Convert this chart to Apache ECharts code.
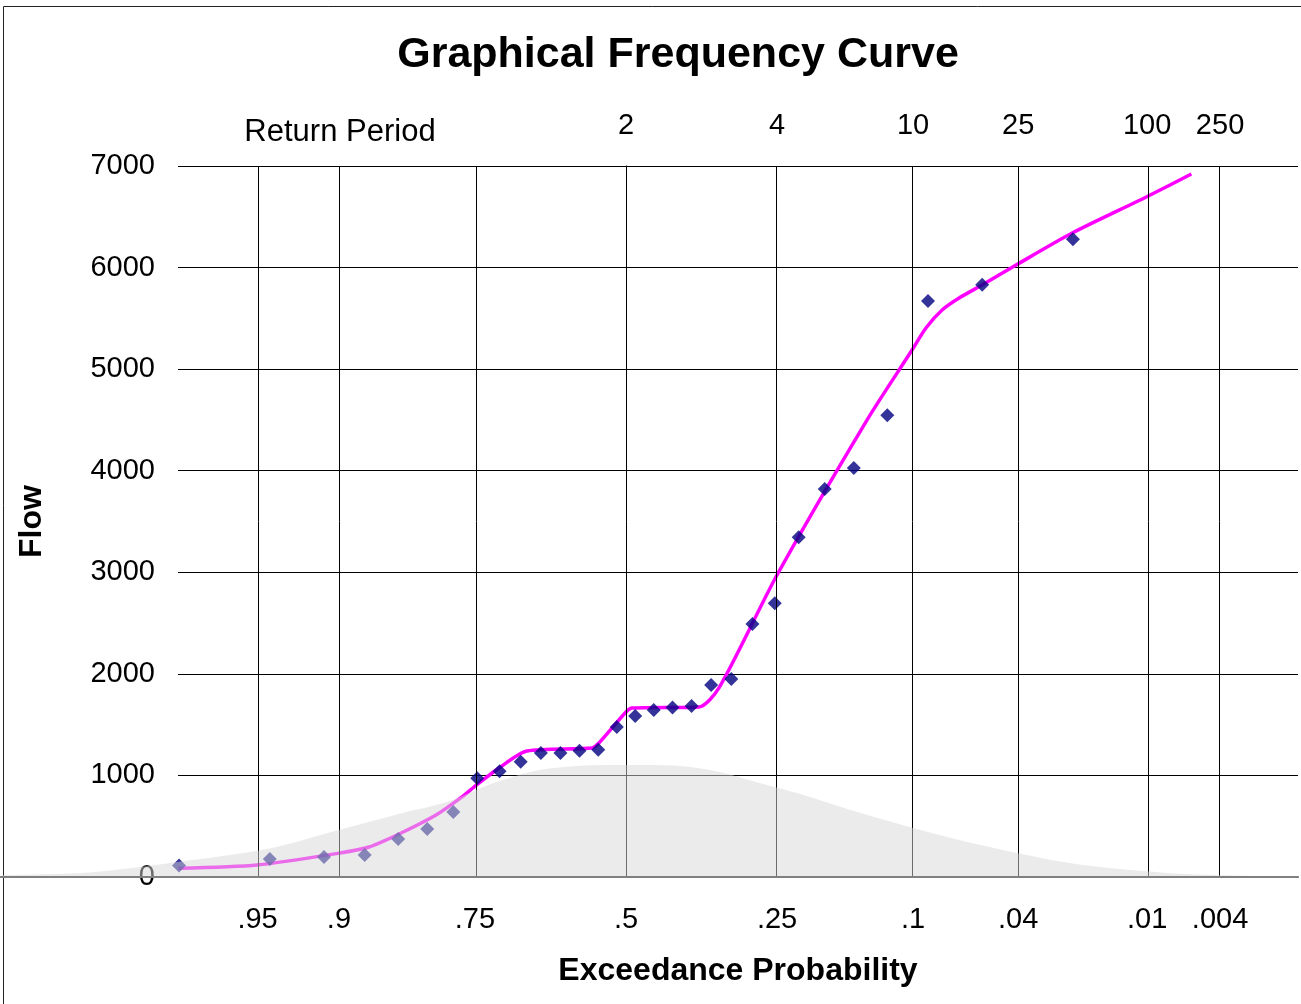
<!DOCTYPE html>
<html><head><meta charset="utf-8">
<script src="https://cdn.jsdelivr.net/npm/echarts@6/dist/echarts.min.js"></script>
<style>html,body{margin:0;padding:0;background:#fff}#c{width:1301px;height:1004px}</style>
</head><body><div id="c"></div>
<script>
// ---- data ----
const probTicks = [0.95, 0.9, 0.75, 0.5, 0.25, 0.1, 0.04, 0.01, 0.004];
const probTickLabels = ['.95', '.9', '.75', '.5', '.25', '.1', '.04', '.01', '.004'];
const returnPeriods = [2, 4, 10, 25, 100, 250];
const returnPeriodLabels = ['2', '4', '10', '25', '100', '250'];

// observed annual peaks (largest first) and their exceedance probabilities
const obsExceedance = [0.0230, 0.0559, 0.0888, 0.1217, 0.1546, 0.1875, 0.2204, 0.2533, 0.2862, 0.3191,
  0.3520, 0.3849, 0.4178, 0.4507, 0.4836, 0.5164, 0.5493, 0.5822, 0.6151, 0.6480,
  0.6809, 0.7138, 0.7467, 0.7796, 0.8125, 0.8454, 0.8783, 0.9112, 0.9441, 0.9770];
const obsFlow = [6280, 5830, 5670, 4545, 4027, 3820, 3345, 2695, 2490, 1949,
  1890, 1684, 1668, 1644, 1585, 1477, 1252, 1242, 1221, 1221,
  1135, 1040, 972, 640, 473, 375, 217, 197, 177, 112];

// fitted frequency curve
const curveExceedance = [0.9772, 0.9502, 0.8992, 0.8743, 0.8445, 0.8018, 0.7679, 0.7514, 0.7146, 0.6708,
  0.5604, 0.5482, 0.5000, 0.4892, 0.3722, 0.3391, 0.2501, 0.1410, 0.1008, 0.0903,
  0.0791, 0.0685, 0.0560, 0.0408, 0.0232, 0.0101, 0.0058];
const curveFlow = [85, 118, 236, 295, 423, 610, 788, 886, 1073, 1240,
  1270, 1319, 1625, 1664, 1674, 1861, 2973, 4499, 5188, 5405,
  5582, 5700, 5828, 6025, 6340, 6695, 6921];

// background bell (density) shape
const bellExceedance = [0.9974, 0.9918, 0.9772, 0.9452, 0.9032, 0.8413, 0.7881, 0.7257, 0.6554, 0.5793,
  0.5000, 0.4207, 0.3446, 0.2743, 0.2119, 0.1587, 0.0968, 0.0548, 0.0228, 0.0082,
  0.00256, 0.00135];
const bellHeight = [20, 45, 150, 277, 455, 630, 740, 920, 1049, 1095,
  1103, 1098, 1042, 922, 800, 660, 471, 305, 130, 43,
  10, 0];

// ---- normal probability scale ----
function normInv(p) {
  const a = [-3.969683028665376e+01, 2.209460984245205e+02, -2.759285104469687e+02, 1.383577518672690e+02, -3.066479806614716e+01, 2.506628277459239e+00];
  const b = [-5.447609879822406e+01, 1.615858368580409e+02, -1.556989798598866e+02, 6.680131188771972e+01, -1.328068155288572e+01];
  const c = [-7.784894002430293e-03, -3.223964580411365e-01, -2.400758277161838e+00, -2.549732539343734e+00, 4.374664141464968e+00, 2.938163982698783e+00];
  const d = [7.784695709041462e-03, 3.224671290700398e-01, 2.445134137142996e+00, 3.754408661907416e+00];
  const pl = 0.02425, ph = 1 - pl;
  let q, r;
  if (p < pl) { q = Math.sqrt(-2 * Math.log(p)); return (((((c[0]*q+c[1])*q+c[2])*q+c[3])*q+c[4])*q+c[5]) / ((((d[0]*q+d[1])*q+d[2])*q+d[3])*q+1); }
  if (p > ph) { q = Math.sqrt(-2 * Math.log(1 - p)); return -(((((c[0]*q+c[1])*q+c[2])*q+c[3])*q+c[4])*q+c[5]) / ((((d[0]*q+d[1])*q+d[2])*q+d[3])*q+1); }
  q = p - 0.5; r = q * q;
  return (((((a[0]*r+a[1])*r+a[2])*r+a[3])*r+a[4])*r+a[5])*q / (((((b[0]*r+b[1])*r+b[2])*r+b[3])*r+b[4])*r+1);
}
const zOf = P => normInv(1 - P);

const tickZ = probTicks.map(zOf);
const rpZ = returnPeriods.map(T => zOf(1 / T));
function labelFor(zs, labels, v) {
  for (let i = 0; i < zs.length; i++) if (Math.abs(zs[i] - v) < 1e-6) return labels[i];
  return '';
}

const FONT = "'Liberation Sans', Arial, sans-serif";
const chart = echarts.init(document.getElementById('c'), null, { renderer: 'canvas' });

chart.setOption({
  animation: false,
  backgroundColor: '#fff',
  graphic: [
    { type: 'rect', shape: { x: 3.5, y: 6.5, width: 1400, height: 1100 }, style: { fill: null, stroke: '#222', lineWidth: 1 }, silent: true, z: -10 },
    { type: 'text', x: 678, y: 55, style: { text: 'Graphical Frequency Curve', font: "bold 43px " + FONT, fill: '#000', textAlign: 'center', textVerticalAlign: 'middle' }, silent: true },
    { type: 'text', x: 340, y: 132, style: { text: 'Return Period', font: "31px " + FONT, fill: '#000', textAlign: 'center', textVerticalAlign: 'middle' }, silent: true }
  ],
  grid: [
    { left: 178, right: 3, top: 166, bottom: 127, show: false },
    { left: 0, right: 3, top: 166, bottom: 127, show: false }
  ],
  xAxis: [
    {
      gridIndex: 0, type: 'value', min: -2, max: 3, position: 'bottom',
      axisLine: { show: false }, axisTick: { show: false }, splitLine: { show: false },
      axisLabel: {
        customValues: tickZ, margin: 28, fontSize: 29, fontFamily: FONT, color: '#000',
        formatter: v => labelFor(tickZ, probTickLabels, v)
      },
      name: 'Exceedance Probability', nameLocation: 'middle', nameGap: 78,
      nameTextStyle: { fontSize: 32, fontWeight: 'bold', fontFamily: FONT, color: '#000' }
    },
    {
      gridIndex: 0, type: 'value', min: -2, max: 3, position: 'top',
      axisLine: { show: true, lineStyle: { color: '#000', width: 1 } },
      axisTick: { show: false }, splitLine: { show: false },
      axisLabel: {
        customValues: rpZ, margin: 26, fontSize: 29, fontFamily: FONT, color: '#000',
        formatter: v => labelFor(rpZ, returnPeriodLabels, v)
      }
    },
    {
      gridIndex: 1, type: 'value', min: -2.8, max: 3, position: 'bottom', z: 20,
      axisLine: { show: true, onZero: false, lineStyle: { color: '#808080', width: 2 } },
      axisTick: { show: false }, axisLabel: { show: false }, splitLine: { show: false }
    }
  ],
  yAxis: [
    {
      gridIndex: 0, type: 'value', min: 0, max: 7000, interval: 1000,
      axisLine: { show: true, lineStyle: { color: '#000', width: 1 } },
      axisTick: { show: true, inside: false, length: 9, lineStyle: { color: '#000' } },
      splitLine: { show: true, lineStyle: { color: '#000', width: 1 } },
      axisLabel: { margin: 23, fontSize: 29, fontFamily: FONT, color: '#000', formatter: v => String(v) },
      name: 'Flow', nameLocation: 'middle', nameGap: 130,
      nameTextStyle: { fontSize: 32, fontWeight: 'bold', fontFamily: FONT, color: '#000' }
    },
    {
      gridIndex: 0, type: 'value', min: 0, max: 7000, position: 'right',
      axisLine: { show: true, lineStyle: { color: '#808080', width: 1 } },
      axisTick: { show: false }, axisLabel: { show: false }, splitLine: { show: false }
    },
    {
      gridIndex: 1, type: 'value', min: 0, max: 7000, show: false
    }
  ],
  series: [
    {
      name: 'grid', type: 'scatter', xAxisIndex: 0, yAxisIndex: 0, z: 1,
      data: [[-2, 0]], symbolSize: 0, silent: true,
      markLine: {
        silent: true, symbol: 'none', label: { show: false },
        lineStyle: { color: '#000', width: 1, type: 'solid' },
        data: tickZ.map(z => ({ xAxis: z }))
      }
    },
    {
      name: 'Frequency curve', type: 'line', xAxisIndex: 0, yAxisIndex: 0, z: 3,
      data: curveExceedance.map((p, i) => [zOf(p), curveFlow[i]]),
      showSymbol: false, smooth: 0.25, lineStyle: { color: '#FF00FF', width: 3.5 }
    },
    {
      name: 'Observed', type: 'scatter', xAxisIndex: 0, yAxisIndex: 0, z: 4,
      data: obsExceedance.map((p, i) => [zOf(p), obsFlow[i]]),
      symbol: 'diamond', symbolSize: 14, itemStyle: { color: '#000080' }
    },
    {
      name: 'bell', type: 'line', xAxisIndex: 2, yAxisIndex: 2, z: 10,
      data: bellExceedance.map((p, i) => [zOf(p), bellHeight[i]]),
      showSymbol: false, smooth: 0.3, silent: true,
      lineStyle: { width: 0 },
      areaStyle: { color: 'rgba(215,215,215,0.5)', opacity: 1 }
    }
  ]
});
</script></body></html>
